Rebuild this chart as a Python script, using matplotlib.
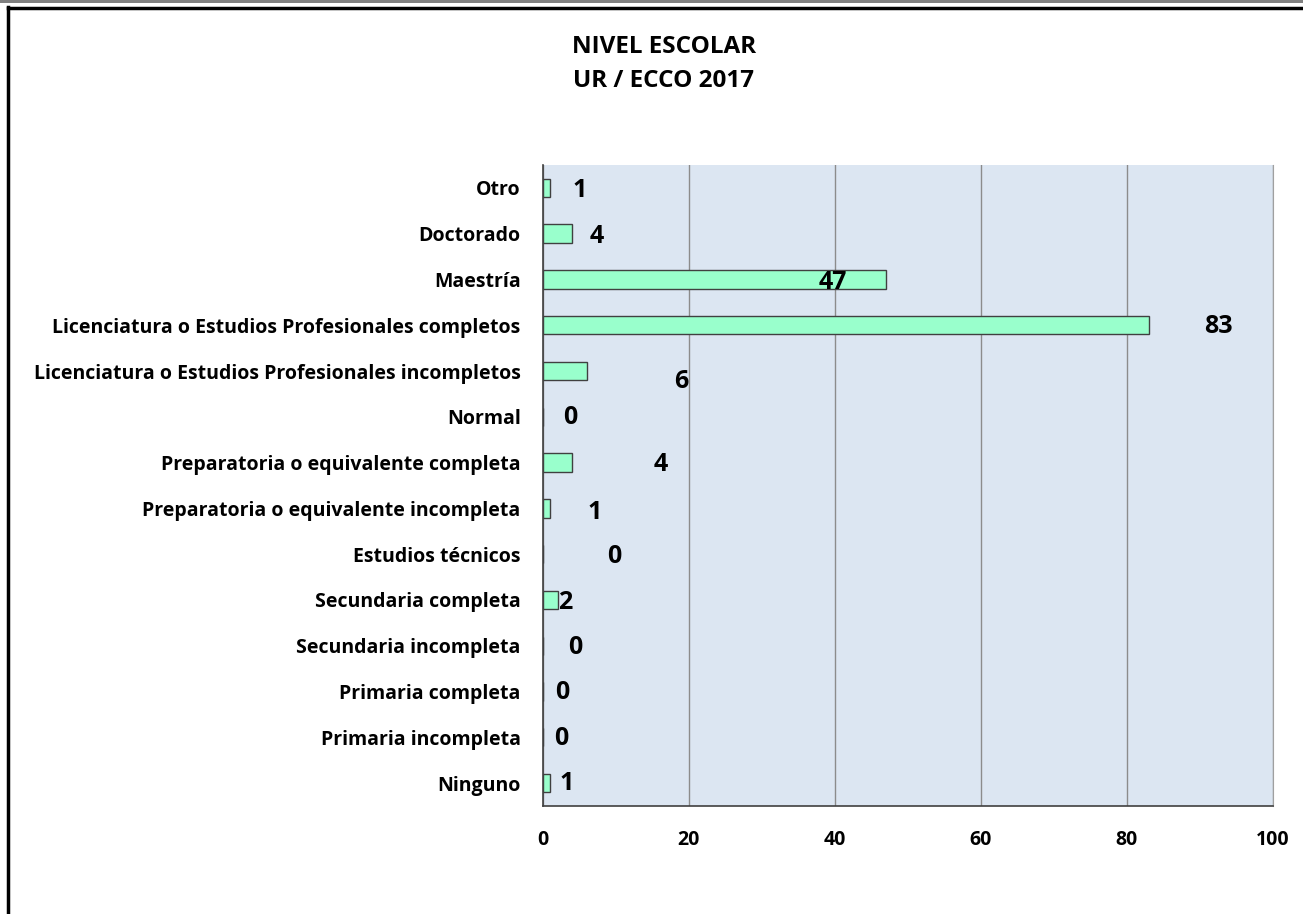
import matplotlib.pyplot as plt
from matplotlib.lines import Line2D
from matplotlib.patches import Rectangle

# Nivel escolar, de abajo hacia arriba
categorias = [
    'Ninguno',
    'Primaria incompleta',
    'Primaria completa',
    'Secundaria incompleta',
    'Secundaria completa',
    'Estudios técnicos',
    'Preparatoria o equivalente incompleta',
    'Preparatoria o equivalente completa',
    'Normal',
    'Licenciatura o Estudios Profesionales incompletos',
    'Licenciatura o Estudios Profesionales completos',
    'Maestría',
    'Doctorado',
    'Otro',
]
valores = [1, 0, 0, 0, 2, 0, 1, 4, 0, 6, 83, 47, 4, 1]

# posicion de cada etiqueta (x en unidades del eje, desplazamiento vertical)
etiqueta_x = [3.3, 2.5, 2.6, 4.4, 3.0, 9.7, 7.1, 16.2, 3.7, 18.9, 92.5, 39.7, 7.4, 5.1]
etiqueta_dy = [-0.02, -0.02, -0.02, -0.04, -0.06, -0.06, -0.08, -0.05, -0.02, -0.22, -0.02, -0.06, -0.06, -0.06]

plt.rcParams['font.family'] = ['Open Sans', 'DejaVu Sans']

fig = plt.figure(figsize=(13.03, 9.14), dpi=100)
ax = fig.add_axes([0.4167, 0.1182, 0.5602, 0.7013])

ax.set_facecolor('#DCE6F2')
pos = list(range(len(categorias)))
ax.barh(pos, valores, height=0.4, color='#99FFCC', edgecolor='#404040', linewidth=1.0, zorder=3)

for i, v in enumerate(valores):
    ax.text(etiqueta_x[i], pos[i] + etiqueta_dy[i], str(v), ha='center', va='center',
            fontsize=18, fontweight='bold', color='black', zorder=4)

ax.set_xlim(0, 100)
ax.set_ylim(-0.5, len(categorias) - 0.5)
ax.set_xticks([0, 20, 40, 60, 80, 100])
ax.set_yticks(pos)
ax.set_yticklabels(categorias)
ax.grid(axis='x', color='#8C8C8C', linewidth=1.0, zorder=1)
ax.tick_params(axis='both', length=0, labelsize=14)
ax.tick_params(axis='y', pad=16)
ax.tick_params(axis='x', pad=17)
for lab in ax.get_xticklabels() + ax.get_yticklabels():
    lab.set_fontweight('bold')

ax.spines['top'].set_visible(False)
ax.spines['right'].set_color('#A0A0A0')
ax.spines['left'].set_color('#404040')
ax.spines['bottom'].set_color('#404040')
ax.spines['left'].set_linewidth(1.2)
ax.spines['bottom'].set_linewidth(1.2)

fig.text(0.5095, 0.949, 'NIVEL ESCOLAR', ha='center', va='center', fontsize=17.5, fontweight='bold')
fig.text(0.5095, 0.911, 'UR / ECCO 2017', ha='center', va='center', fontsize=17.5, fontweight='bold')

# marco superior e izquierdo
fig.add_artist(Rectangle((0, 1 - 3 / 914), 1, 3 / 914, transform=fig.transFigure,
                         facecolor='#808080', edgecolor='none'))
fig.add_artist(Line2D([7.5 / 1303, 1], [1 - 8 / 914, 1 - 8 / 914], transform=fig.transFigure,
                      color='black', linewidth=2.5))
fig.add_artist(Line2D([8 / 1303, 8 / 1303], [0, 1 - 7 / 914], transform=fig.transFigure,
                      color='black', linewidth=2.5))

fig.savefig('out.png', dpi=100)
